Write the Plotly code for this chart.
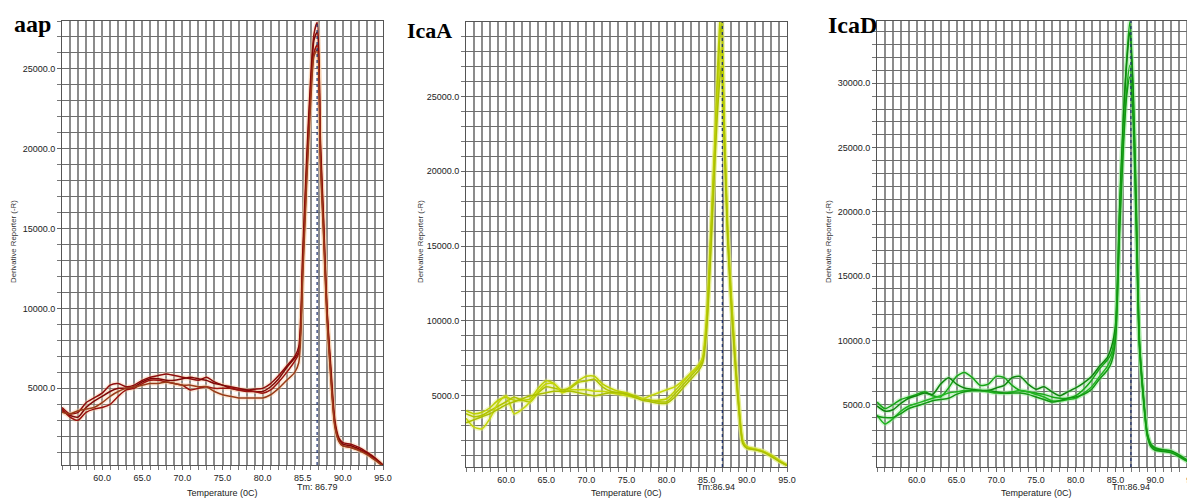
import plotly.graph_objects as go

# ---------------- data ----------------
TEMPS = [55, 56, 57, 58, 59, 60, 61, 62, 63, 64, 65, 66, 67, 68, 69, 70, 71, 72, 73, 74,
         75, 76, 77, 78, 79, 80, 81, 82, 83, 84, 84.5, 85, 85.5, 86, 86.4, 86.8, 87.2, 87.6,
         88, 88.5, 89, 89.5, 90, 91, 92, 93, 94, 95]

aap_1 = [3800, 3400, 3500, 4100, 4400, 4700, 5200, 5300, 5100, 5200, 5500, 5700, 5800, 5900, 5800, 5700, 5600, 5500, 5700, 5400,
         5200, 5100, 5000, 4900, 4950, 5000, 5300, 5800, 6400, 7000, 7600, 13500, 19500, 24500, 27200, 27900, 20500, 15500,
         10200, 6300, 3000, 1900, 1600, 1500, 1300, 1000, 650, 200]
aap_2 = [3600, 3300, 3200, 3800, 4200, 4500, 4800, 5000, 5000, 5100, 5400, 5600, 5600, 5500, 5500, 5600, 5700, 5600, 5500, 5300,
         5200, 5000, 4900, 4900, 4800, 4800, 5100, 5600, 6300, 6900, 7300, 13000, 19000, 24000, 26800, 27300, 20000, 15200,
         10000, 6000, 2800, 1800, 1500, 1400, 1200, 950, 600, 180]
aap_3 = [3700, 3200, 3000, 3500, 3700, 3800, 4000, 4500, 4900, 5000, 5300, 5500, 5500, 5400, 5300, 5200, 4900, 5000, 5100, 5000,
         5000, 5000, 4900, 4800, 4800, 4700, 4900, 5400, 6000, 6700, 7200, 12500, 18500, 23500, 26000, 26500, 19500, 14800,
         9800, 5800, 2700, 1700, 1400, 1300, 1150, 900, 550, 150]
aap_4 = [3500, 3400, 3600, 3700, 3800, 4100, 4500, 4800, 5000, 5100, 5200, 5300, 5300, 5400, 5300, 5200, 5200, 5100, 5100, 4800,
         4600, 4500, 4400, 4400, 4400, 4400, 4600, 5000, 5500, 6000, 6600, 12000, 18000, 23000, 25800, 26200, 19000, 14500,
         9500, 5600, 2600, 1700, 1400, 1300, 1100, 850, 500, 120]

icaA_1 = [4000, 3800, 3900, 4200, 4700, 4900, 4700, 4700, 4800, 5500, 6000, 5800, 5300, 5600, 6000, 6300, 6300, 5800, 5500, 5300,
          5200, 5000, 4800, 4700, 4700, 4800, 5300, 5900, 6500, 7000, 7600, 10500, 16000, 22000, 27500, 31500, 23000, 16500,
          12200, 8000, 4500, 2000, 1600, 1450, 1300, 1050, 700, 380]
icaA_2 = [3800, 3600, 3700, 4000, 4300, 4600, 4900, 4700, 4600, 5200, 5600, 5500, 5400, 5500, 5900, 6000, 6100, 5600, 5300, 5200,
          5100, 5000, 4800, 4700, 4600, 4600, 5100, 5700, 6300, 6900, 7400, 10000, 15500, 21500, 26500, 30000, 22500, 16000,
          12000, 7800, 4300, 1900, 1500, 1400, 1250, 1000, 650, 350]
icaA_3 = [3500, 2900, 2800, 3500, 4500, 5000, 3800, 4100, 4600, 5300, 5800, 5800, 5200, 5400, 5400, 5400, 5300, 5300, 5200, 5100,
          5000, 4900, 4800, 5000, 5200, 5400, 5600, 6000, 6500, 7100, 7500, 9800, 15000, 21000, 25500, 28300, 22000, 15800,
          11700, 7600, 4200, 1900, 1550, 1450, 1300, 1000, 650, 360]
icaA_4 = [3200, 3400, 3600, 3800, 4100, 4400, 4600, 4800, 5000, 5100, 5200, 5300, 5300, 5300, 5200, 5100, 5000, 5100, 5200, 5200,
          5100, 4900, 4700, 4600, 4500, 4500, 4900, 5500, 6100, 6700, 7200, 9500, 14500, 20500, 24500, 27000, 21500, 15500,
          11400, 7400, 4100, 1800, 1500, 1400, 1250, 950, 620, 340]

icaD_1 = [5200, 4700, 5000, 5400, 5600, 5800, 6000, 5700, 5600, 6300, 7200, 7500, 7100, 6500, 6600, 7200, 7100, 6500, 6100, 6000,
          5900, 5800, 5600, 5500, 5500, 5700, 6200, 6900, 7800, 8500, 9000, 10800, 20000, 27500, 31800, 34800, 30000, 21000,
          10200, 5800, 2800, 1900, 1650, 1500, 1400, 1100, 700, 300]
icaD_2 = [4900, 4500, 4600, 5100, 5500, 5700, 5900, 5800, 6600, 7100, 6600, 6300, 6200, 6100, 6100, 6300, 6500, 7100, 7200, 6600,
          6200, 6400, 6000, 5700, 6000, 6300, 6700, 7200, 8000, 8700, 9500, 11200, 19800, 27200, 31500, 34000, 29500, 20500,
          10000, 5700, 2700, 1800, 1550, 1450, 1350, 1050, 650, 280]
icaD_3 = [4200, 3500, 3900, 4500, 4900, 5100, 5300, 5500, 5700, 5900, 6000, 6100, 6100, 6100, 6000, 5900, 5900, 6000, 6100, 6000,
          5800, 5600, 5300, 5300, 5400, 5500, 5900, 6400, 7200, 8000, 8700, 10500, 18800, 25800, 29500, 31400, 28000, 19500,
          9800, 5600, 2600, 1750, 1500, 1400, 1300, 1000, 620, 250]
icaD_4 = [4100, 4000, 4000, 4300, 4700, 4900, 5100, 5300, 5400, 5500, 5800, 6000, 6100, 6100, 6100, 6000, 5900, 5900, 5900, 5800,
          5600, 5400, 5200, 5300, 5500, 5600, 5800, 6200, 7000, 7700, 8300, 10000, 18200, 25200, 29000, 30500, 27500, 19000,
          9600, 5500, 2600, 1700, 1450, 1350, 1250, 950, 600, 230]

PANEL_TITLES = ["aap", "IcaA", "IcaD"]
TM_VALUES = [86.79, 86.94, 86.94]
TM_LABELS = ["Tm: 86.79", "Tm:86.94", "Tm:86.94"]
X_TICK_VALUES = [60, 65, 70, 75, 80, 85, 90, 95]
X_TICK_TEXT_AAP = ["60.0", "65.0", "70.0", "75.0", "80.0", "85.5", "90.0", "95.0"]
X_TICK_TEXT = ["60.0", "65.0", "70.0", "75.0", "80.0", "85.0", "90.0", "95.0"]
Y_RANGES = [[200, 28000], [240, 29980], [150, 34850]]
X_TITLE = "Temperature (0C)"
Y_TITLE = "Derivative Reporter (-R)"

# ---------------- style ----------------
# The page body has an 8px margin, so the figure is placed from (8, 8) in the window.
OFF = 8
W, H = 1195 - OFF, 499 - OFF
# plot areas in window pixels: left, right, top, bottom
AREAS = [(62, 383, 21, 465), (466, 787, 22, 467), (877, 1195, 21, 467)]
LINE_COLORS = [
    ["#8e0c0c", "#7e0808", "#9a120e", "#9a3c18"],
    ["#bcd000", "#b0c400", "#c4d608", "#aabf00"],
    ["#16a616", "#0e860e", "#20b420", "#129812"],
]
GLOW = ["rgba(245,200,160,0.35)", "rgba(225,235,120,0.40)", "rgba(150,230,150,0.40)"]
FONT_SANS = "Liberation Sans, Arial, sans-serif"
TICKFONT = dict(family=FONT_SANS, size=9, color="#222")

series = [[aap_1, aap_2, aap_3, aap_4],
          [icaA_1, icaA_2, icaA_3, icaA_4],
          [icaD_1, icaD_2, icaD_3, icaD_4]]

fig = go.Figure()

def px_x(p):
    return (p - OFF) / W

def px_y(p):
    return 1 - (p - OFF) / H

for i, curves in enumerate(series):
    xa = "x" if i == 0 else f"x{i+1}"
    ya = "y" if i == 0 else f"y{i+1}"
    for j, vals in enumerate(curves):
        fig.add_trace(go.Scatter(x=TEMPS, y=vals, mode="lines", xaxis=xa, yaxis=ya,
                                 line=dict(color=GLOW[i], width=4.5, shape="spline", smoothing=0.7),
                                 showlegend=False, hoverinfo="skip"))
    for j, vals in enumerate(curves):
        fig.add_trace(go.Scatter(x=TEMPS, y=vals, mode="lines", xaxis=xa, yaxis=ya,
                                 line=dict(color=LINE_COLORS[i][j], width=1.5, shape="spline", smoothing=0.7),
                                 showlegend=False))

layout = dict(width=W, height=H, margin=dict(l=0, r=0, t=0, b=0, pad=0, autoexpand=False),
              paper_bgcolor="white", plot_bgcolor="white", showlegend=False)

shapes = []
annotations = []
for i, (l, r, t, b) in enumerate(AREAS):
    sx = "" if i == 0 else str(i + 1)
    layout[f"xaxis{sx}"] = dict(
        domain=[px_x(l), min(1.0, px_x(r))], anchor=f"y{sx}", range=[55, 95], automargin=False,
        tickmode="array", tickvals=X_TICK_VALUES,
        ticktext=X_TICK_TEXT_AAP if i == 0 else X_TICK_TEXT,
        ticklabeloverflow="allow",
        ticks="outside", ticklen=4, tickcolor="#666", tickfont=TICKFONT,
        showgrid=True, gridcolor="#8c8c8c", gridwidth=1.5,
        minor=dict(tickmode="linear", tick0=0, dtick=1, showgrid=True, gridcolor="#8c8c8c",
                   gridwidth=1.5, ticks="outside", ticklen=4, tickcolor="#777"),
        showline=True, linecolor="#555", linewidth=1, mirror=True, zeroline=False,
        fixedrange=True)
    layout[f"yaxis{sx}"] = dict(
        domain=[px_y(b), px_y(t)], anchor=f"x{sx}", range=Y_RANGES[i], automargin=False,
        tickmode="linear", tick0=0, dtick=5000, tickformat=".1f",
        ticks="outside", ticklen=4, tickcolor="#666", tickfont=TICKFONT,
        showgrid=True, gridcolor="#6e6e6e", gridwidth=1,
        minor=dict(tickmode="linear", tick0=0, dtick=1000, showgrid=True, gridcolor="#6e6e6e",
                   gridwidth=1, ticks="outside", ticklen=4, tickcolor="#777"),
        showline=True, linecolor="#555", linewidth=1, mirror=True, zeroline=False,
        fixedrange=True)
    # Tm line
    shapes.append(dict(type="line", xref=f"x{sx}", yref=f"y{sx} domain",
                       x0=TM_VALUES[i], x1=TM_VALUES[i], y0=0, y1=1,
                       line=dict(color="#1b2f6e", width=1.2, dash="dot")))
    # Tm label
    tm_shift = -0.75 if i == 1 else 0.0
    annotations.append(dict(xref=f"x{sx}", yref="paper", x=TM_VALUES[i] + tm_shift, y=px_y(487),
                            text=TM_LABELS[i], showarrow=False, xanchor="center", yanchor="middle",
                            font=dict(family=FONT_SANS, size=9, color="#222")))
    # axis titles
    annotations.append(dict(xref="paper", yref="paper", x=px_x((l + r) / 2), y=px_y(493),
                            text=X_TITLE, showarrow=False, xanchor="center", yanchor="middle",
                            font=dict(family=FONT_SANS, size=9, color="#222")))
    ytx = [13, 420, 828][i]
    annotations.append(dict(xref="paper", yref="paper", x=px_x(ytx), y=px_y(242),
                            text=Y_TITLE, showarrow=False, textangle=-90,
                            xanchor="center", yanchor="middle",
                            font=dict(family=FONT_SANS, size=7.8, color="#333")))

# panel titles: left x, vertical centre y, font size (window pixels)
TITLE_POS = [(12, 24, 24), (405, 30, 22), (826, 25, 24)]
for i, (tx, ty, fs) in enumerate(TITLE_POS):
    annotations.append(dict(xref="paper", yref="paper", x=px_x(tx), y=px_y(ty),
                            text=f"<b>{PANEL_TITLES[i]}</b>", showarrow=False,
                            xanchor="left", yanchor="middle",
                            font=dict(family="Liberation Serif, Times New Roman, serif", size=fs, color="#000")))

layout["shapes"] = shapes
layout["annotations"] = annotations
fig.update_layout(**layout)
fig.write_html("out.html")
